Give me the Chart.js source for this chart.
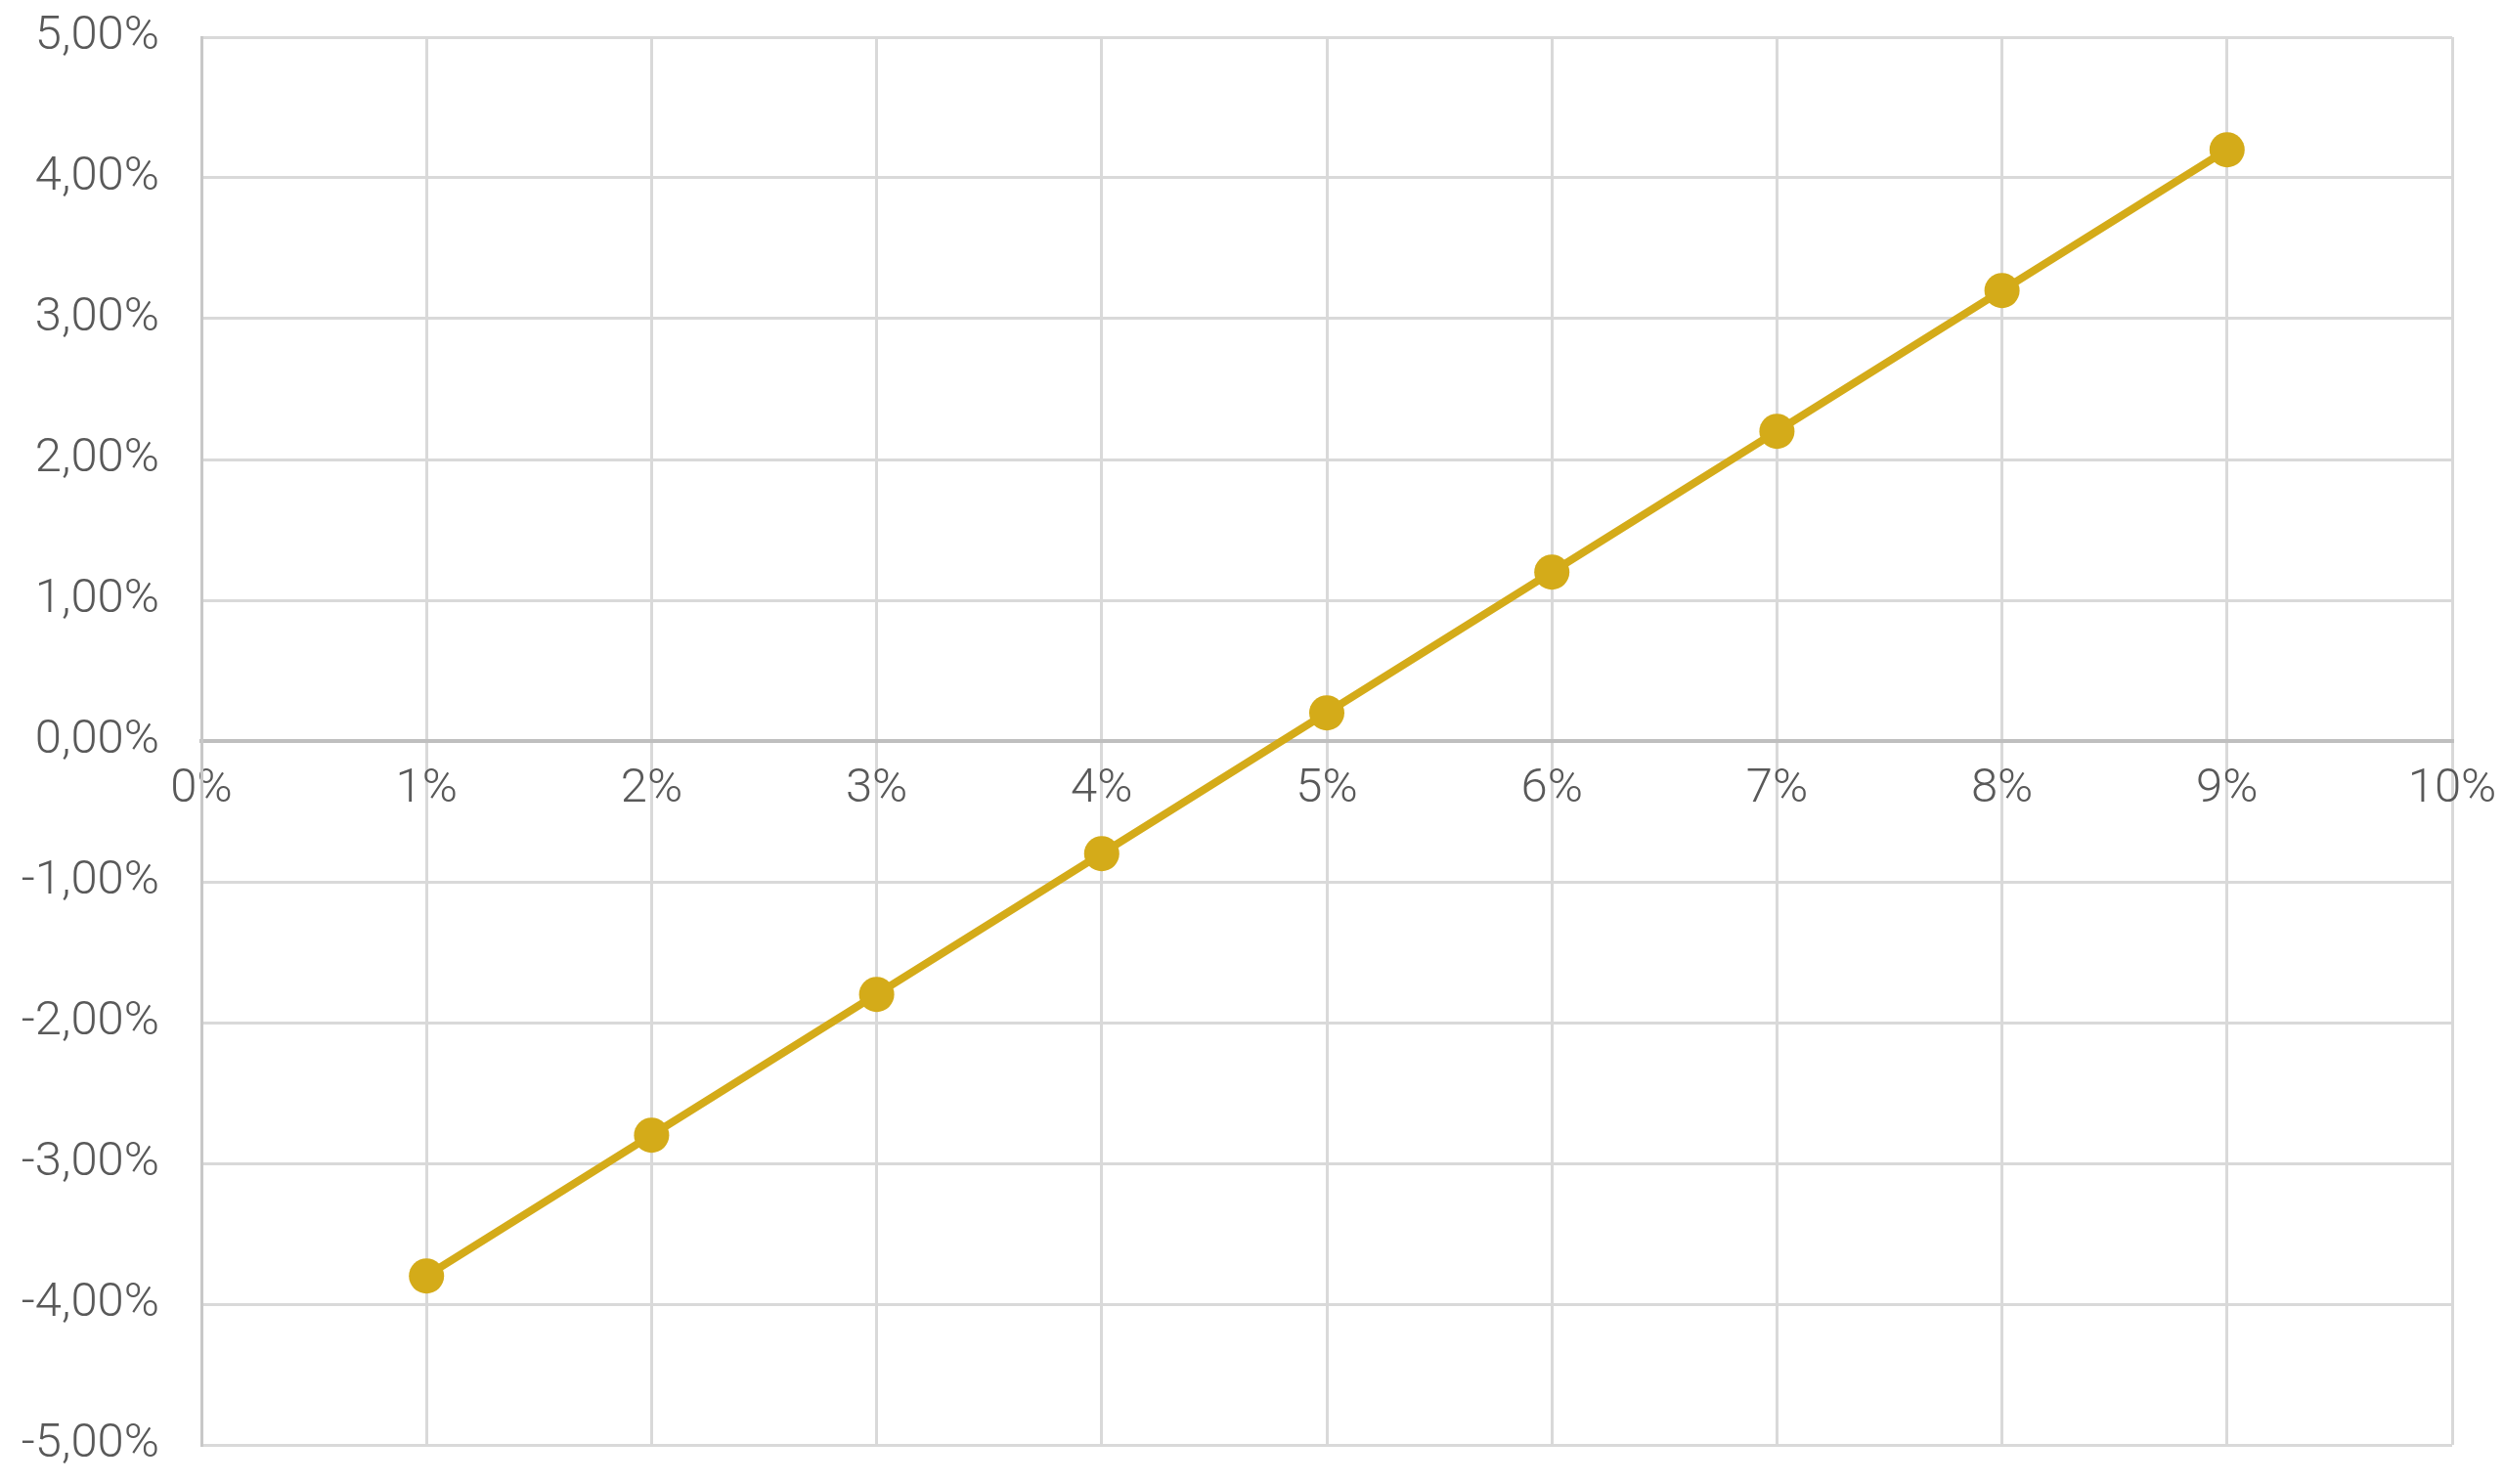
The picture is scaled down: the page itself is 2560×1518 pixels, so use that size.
<!DOCTYPE html>
<html>
<head>
<meta charset="utf-8">
<script src="https://cdn.jsdelivr.net/npm/chart.js@4"></script>
<style>
    html, body { margin: 0; padding: 0; background: #ffffff; }
    #wrap { width: 2560px; height: 1518px; }
</style>
</head>
<body>
<div id="wrap"><canvas id="myChart" width="2560" height="1518"></canvas></div>
<script>
// x in %, y in %
const xValues = [1, 2, 3, 4, 5, 6, 7, 8, 9];
const yValues = [-3.8, -2.8, -1.8, -0.8, 0.2, 1.2, 2.2, 3.2, 4.2];
const xTicks = [0, 1, 2, 3, 4, 5, 6, 7, 8, 9, 10];
const yTicks = [-5, -4, -3, -2, -1, 0, 1, 2, 3, 4, 5];

const lineColor = '#d4ab19';
const textColor = '#595959';
const tickFont = { family: 'Roboto', size: 49, weight: '300' };

const points = xValues.map((x, i) => ({ x: x, y: yValues[i] }));

const ctx = document.getElementById('myChart').getContext('2d');
const myChart = new Chart(ctx, {
    type: 'line',
    data: {
        datasets: [{
            data: points,
            borderColor: lineColor,
            backgroundColor: lineColor,
            borderWidth: 8,
            pointRadius: 18,
            pointBorderWidth: 0,
            pointBackgroundColor: lineColor,
            tension: 0,
            clip: false
        }]
    },
    options: {
        responsive: false,
        animation: false,
        layout: { autoPadding: false, padding: { top: 38, right: 52, bottom: 40, left: 0 } },
        plugins: { legend: { display: false }, tooltip: { enabled: false } },
        scales: {
            x: {
                type: 'linear',
                position: { y: 0 },
                min: xTicks[0],
                max: xTicks[xTicks.length - 1],
                afterBuildTicks: (scale) => { scale.ticks = xTicks.map(v => ({ value: v })); },
                afterFit: (scale) => {
                    // axis sits on y = 0, so it takes no room of its own
                    scale.height = 0;
                    scale.paddingLeft = 0;
                    scale.paddingRight = 0;
                },
                ticks: {
                    color: textColor,
                    font: tickFont,
                    padding: 20,
                    maxRotation: 0,
                    callback: (v) => v + '%'
                },
                grid: { color: '#d9d9d9', lineWidth: 3, drawTicks: false },
                border: { color: '#bfbfbf', width: 4 }
            },
            y: {
                type: 'linear',
                min: yTicks[0],
                max: yTicks[yTicks.length - 1],
                afterBuildTicks: (scale) => { scale.ticks = yTicks.map(v => ({ value: v })); },
                afterFit: (scale) => {
                    scale.width = 206;
                    scale.paddingTop = 0;
                    scale.paddingBottom = 0;
                },
                ticks: {
                    color: textColor,
                    font: tickFont,
                    padding: 43,
                    callback: (v) => v.toFixed(2).replace('.', ',') + '%'
                },
                grid: { color: '#d9d9d9', lineWidth: 3, drawTicks: false },
                border: { color: '#c8c8c8', width: 3 }
            }
        }
    }
});
</script>
</body>
</html>
